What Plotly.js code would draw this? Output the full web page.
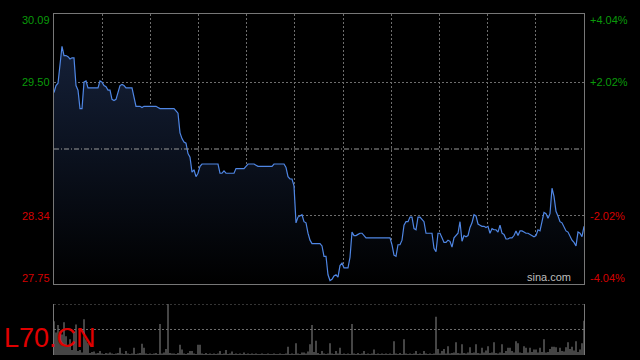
<!DOCTYPE html>
<html>
<head>
<meta charset="utf-8">
<script src="https://cdn.plot.ly/plotly-3.0.1.min.js"></script>
<style>
html,body{margin:0;padding:0;background:#000;}
#chart{width:640px;height:360px;}
</style>
</head>
<body>
<div id="chart"></div>
<script>
const symbol = 'L70.CN';
const watermark = 'sina.com';
const prevClose = 28.92;
const priceTickValues = [30.09, 29.50, 28.34, 27.75];
const priceTickLabels = ['30.09', '29.50', '28.34', '27.75'];
const pctTickLabels = ['+4.04%', '+2.02%', '-2.02%', '-4.04%'];
const tickColors = ['#0a9a0a', '#0a9a0a', '#d40000', '#d40000'];

const prices = [
  29.41,29.47,29.49,29.63,29.81,29.73,29.73,29.72,29.70,29.71,
  29.71,29.47,29.43,29.27,29.27,29.50,29.51,29.45,29.45,29.45,
  29.45,29.45,29.45,29.51,29.50,29.47,29.46,29.43,29.43,29.35,
  29.34,29.35,29.41,29.47,29.48,29.47,29.45,29.45,29.45,29.45,
  29.37,29.29,29.29,29.29,29.28,29.29,29.29,29.29,29.29,29.29,
  29.29,29.29,29.28,29.27,29.27,29.27,29.27,29.27,29.27,29.27,
  29.27,29.25,29.23,29.06,29.01,28.98,28.97,28.88,28.85,28.72,
  28.74,28.68,28.71,28.77,28.79,28.79,28.79,28.79,28.79,28.79,
  28.79,28.79,28.79,28.71,28.71,28.73,28.71,28.71,28.71,28.71,
  28.71,28.75,28.75,28.75,28.75,28.75,28.77,28.79,28.79,28.79,
  28.79,28.78,28.77,28.77,28.77,28.77,28.77,28.77,28.77,28.77,
  28.79,28.79,28.79,28.79,28.79,28.79,28.76,28.68,28.66,28.66,
  28.60,28.28,28.33,28.34,28.35,28.29,28.28,28.19,28.13,28.10,
  28.10,28.10,28.10,28.10,28.08,27.99,27.99,27.83,27.78,27.79,
  27.82,27.83,27.81,27.91,27.93,27.89,27.89,27.89,27.98,28.20,
  28.17,28.17,28.18,28.19,28.19,28.17,28.15,28.15,28.15,28.15,
  28.15,28.15,28.15,28.15,28.15,28.15,28.15,28.15,28.15,28.09,
  28.00,27.99,28.09,28.09,28.13,28.26,28.29,28.29,28.33,28.33,
  28.23,28.22,28.33,28.33,28.31,28.29,28.19,28.19,28.19,28.19,
  28.06,28.03,28.19,28.19,28.15,28.11,28.11,28.13,28.12,28.07,
  28.15,28.17,28.19,28.29,28.12,28.17,28.16,28.17,28.24,28.28,
  28.35,28.34,28.27,28.26,28.25,28.25,28.24,28.25,28.19,28.23,
  28.22,28.22,28.20,28.26,28.19,28.18,28.14,28.14,28.15,28.15,
  28.17,28.21,28.17,28.21,28.21,28.20,28.19,28.19,28.18,28.17,
  28.16,28.17,28.22,28.21,28.28,28.37,28.36,28.32,28.36,28.58,
  28.51,28.38,28.34,28.29,28.28,28.25,28.21,28.20,28.16,28.13,
  28.11,28.08,28.20,28.19,28.16,28.25
];

const volumes = [
  66,44,59,46,40,64,37,20,31,10,
  45,60,8,10,5,70,31,24,4,6,
  7,3,4,8,3,2,4,3,5,3,
  2,3,4,14,3,2,8,3,2,3,
  14,2,3,4,22,14,3,2,3,2,
  3,4,2,61,3,5,12,100,4,3,
  3,2,4,20,11,3,2,4,8,8,
  3,2,20,20,3,2,4,2,3,2,
  3,2,3,8,2,3,10,2,3,7,
  2,3,2,3,2,5,2,3,2,3,
  2,3,2,2,3,2,2,3,2,2,
  3,2,2,3,2,2,3,16,2,3,
  2,23,3,2,5,5,3,7,21,59,
  6,28,4,2,8,3,2,3,23,3,
  2,8,3,14,2,3,2,3,2,61,
  3,2,4,2,3,8,2,3,2,3,
  11,2,3,2,3,2,3,2,3,2,
  27,3,2,4,2,31,3,2,3,2,
  3,8,2,3,2,8,3,2,3,2,
  3,75,12,3,8,12,3,17,3,4,
  5,25,4,3,21,4,3,5,15,4,
  5,21,4,3,14,5,9,17,4,5,
  25,4,3,5,21,4,8,14,14,8,
  5,27,23,5,4,17,14,5,14,6,
  11,11,5,14,6,31,5,6,12,16,
  16,15,6,14,8,7,15,25,12,16,
  9,27,6,11,23,67
];

const minutes = prices.map((_, i) => i);
const lastIndex = prices.length - 1;
const vMax = Math.max(...volumes);

const gridColor = '#6e6e6e';
const borderColor = '#777777';

const traces = [
  {
    type: 'scatter', mode: 'lines',
    x: minutes, y: prices,
    xaxis: 'x', yaxis: 'y',
    line: {color: '#4f86e4', width: 1.2},
    fill: 'tozeroy',
    fillgradient: {type: 'vertical', start: 27.75, stop: 30.09,
      colorscale: [[0, '#000000'], [1, '#17243f']]},
    hoverinfo: 'skip'
  },
  {
    type: 'bar',
    x: minutes, y: volumes,
    xaxis: 'x2', yaxis: 'y2',
    width: 0.5,
    marker: {color: '#8a8a8a', line: {width: 0}},
    hoverinfo: 'skip'
  }
];

const xGrid = Array.from({length: 10}, (_, k) => (k + 1) * lastIndex / 11);

const annotations = [];
priceTickValues.forEach((v, k) => {
  const shift = k === 0 ? -6 : (k === priceTickValues.length - 1 ? 6 : 0);
  annotations.push({
    xref: 'paper', yref: 'y', x: 0, y: v, xanchor: 'right', yanchor: 'middle',
    xshift: -2, yshift: shift, showarrow: false, text: priceTickLabels[k],
    font: {family: 'Liberation Sans, Arial, sans-serif', size: 11, color: tickColors[k]}
  });
  annotations.push({
    xref: 'paper', yref: 'y', x: 1, y: v, xanchor: 'left', yanchor: 'middle',
    xshift: 4, yshift: shift, showarrow: false, text: pctTickLabels[k],
    font: {family: 'Liberation Sans, Arial, sans-serif', size: 11, color: tickColors[k]}
  });
});
annotations.push({
  xref: 'paper', yref: 'y', x: 0.979, y: 27.75, xanchor: 'right', yanchor: 'bottom',
  yshift: -1, showarrow: false, text: watermark,
  font: {family: 'Liberation Sans, Arial, sans-serif', size: 11, color: '#bdbdbd'}
});
annotations.push({
  xref: 'paper', yref: 'paper', x: -0.0975, y: 0.05, xanchor: 'left', yanchor: 'middle',
  showarrow: false, text: symbol,
  font: {family: 'Liberation Sans, Arial, sans-serif', size: 27, color: '#e00000'}
});

const layout = {
  width: 640, height: 360,
  margin: {l: 54, r: 56, t: 14, b: 5},
  paper_bgcolor: '#000000', plot_bgcolor: '#000000',
  showlegend: false, hovermode: false,
  xaxis: {
    domain: [0, 1], range: [0, lastIndex], anchor: 'y',
    tickmode: 'array', tickvals: xGrid, showticklabels: false, ticks: '',
    showgrid: true, gridcolor: gridColor, griddash: '2px,2px', gridwidth: 1,
    zeroline: false, showline: true, mirror: true, linecolor: borderColor, linewidth: 1
  },
  yaxis: {
    domain: [0.2082, 1], range: [27.75, 30.09], anchor: 'x',
    tickmode: 'array', tickvals: [priceTickValues[1], priceTickValues[2]],
    showticklabels: false, ticks: '',
    showgrid: true, gridcolor: gridColor, griddash: '2px,2px', gridwidth: 1,
    zeroline: false, showline: true, mirror: true, linecolor: borderColor, linewidth: 1
  },
  xaxis2: {
    domain: [0, 1], range: [0, lastIndex], anchor: 'y2',
    showticklabels: false, ticks: '', showgrid: false, zeroline: false, showline: false
  },
  yaxis2: {
    domain: [0, 0.1496], range: [0, vMax], anchor: 'x2',
    showticklabels: false, ticks: '', showgrid: false, zeroline: false,
    showline: true, mirror: true, linecolor: borderColor, linewidth: 1
  },
  shapes: [
    {type: 'line', xref: 'paper', yref: 'y', x0: 0, x1: 1, y0: prevClose, y1: prevClose,
     line: {color: '#9a9a9a', width: 1, dash: '5px,2px,1px,2px'}},
    {type: 'line', xref: 'paper', yref: 'y2', x0: 0, x1: 1, y0: vMax, y1: vMax,
     line: {color: gridColor, width: 1, dash: '2px,2px'}},
    {type: 'line', xref: 'paper', yref: 'y2', x0: 0, x1: 1, y0: vMax / 2, y1: vMax / 2,
     line: {color: gridColor, width: 1, dash: '2px,2px'}}
  ],
  annotations: annotations
};

Plotly.newPlot('chart', traces, layout, {staticPlot: true, displayModeBar: false});
</script>
</body>
</html>
